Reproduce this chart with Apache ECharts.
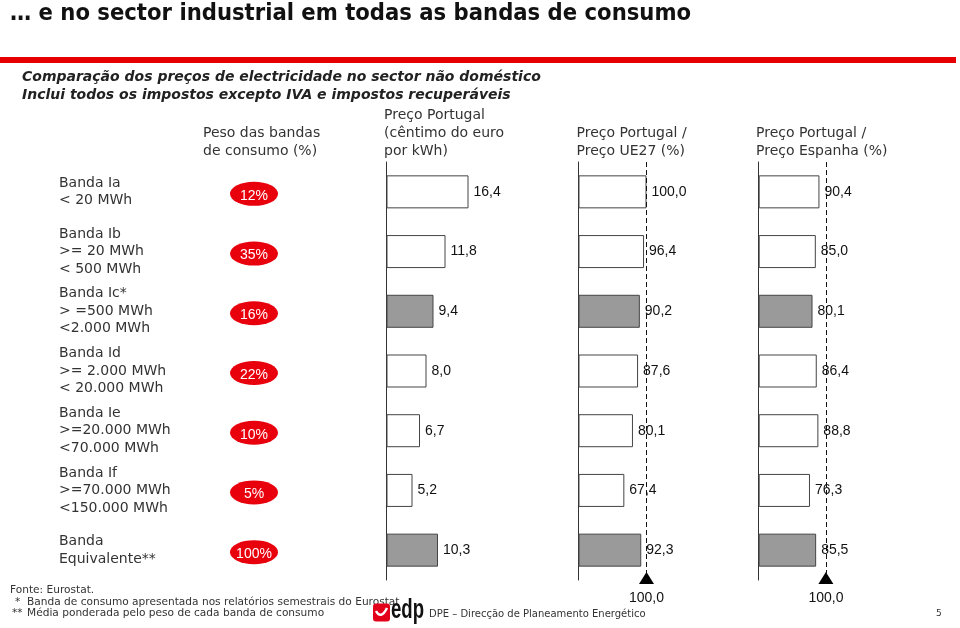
<!DOCTYPE html>
<html><head><meta charset="utf-8">
<script src="https://cdn.jsdelivr.net/npm/echarts@6/dist/echarts.min.js"></script>
<style>html,body{margin:0;padding:0;background:#fff}#c{width:960px;height:628px}</style>
</head><body><div id="c"></div>
<script>
// ---- data ----
const categories = [
  'Banda Ia\n< 20 MWh',
  'Banda Ib\n>= 20 MWh\n< 500 MWh',
  'Banda Ic*\n> =500 MWh\n<2.000 MWh',
  'Banda Id\n>= 2.000 MWh\n< 20.000 MWh',
  'Banda Ie\n>=20.000 MWh\n<70.000 MWh',
  'Banda If\n>=70.000 MWh\n<150.000 MWh',
  'Banda\nEquivalente**'
];
const weights = [12, 35, 16, 22, 10, 5, 100];
const pricePT = [16.4, 11.8, 9.4, 8.0, 6.7, 5.2, 10.3];
const ratioEU = [100.0, 96.4, 90.2, 87.6, 80.1, 67.4, 92.3];
const ratioES = [90.4, 85.0, 80.1, 86.4, 88.8, 76.3, 85.5];
const highlighted = [false, false, true, false, false, false, true];
const referenceValue = 100;
const headers = [
  'Peso das bandas\nde consumo (%)',
  'Preço Portugal\n(cêntimo do euro\npor kWh)',
  'Preço Portugal /\nPreço UE27 (%)',
  'Preço Portugal /\nPreço Espanha (%)'
];
const titleText = '… e no sector industrial em todas as bandas de consumo';
const subtitleText = 'Comparação dos preços de electricidade no sector não doméstico\nInclui todos os impostos excepto IVA e impostos recuperáveis';
const footnotes = ['Fonte: Eurostat.', '*', 'Banda de consumo apresentada nos relatórios semestrais do Eurostat', '**', 'Média ponderada pelo peso de cada banda de consumo'];
const footerDept = 'DPE – Direcção de Planeamento Energético';
const pageNumber = '5';

// ---- layout ----
const FONT = 'DejaVu Sans';
const NUMFONT = 'Liberation Sans';
const TOP = 162, H = 418;
const fmt = v => v.toFixed(1).replace('.', ',');
const barData = arr => arr.map((v, i) => ({ value: v, itemStyle: { color: highlighted[i] ? '#9a9a9a' : '#ffffff' } }));

const panels = [
  { left: 386.5, width: 100, max: 20, data: pricePT, ref: false },
  { left: 578.5, width: 68, max: 100, data: ratioEU, ref: true },
  { left: 758.7, width: 67.2, max: 100, data: ratioES, ref: true }
];

const grid = [{ left: 230, top: TOP, width: 48, height: H }];
const xAxis = [{ gridIndex: 0, type: 'value', min: 0, max: 1, show: false }];
const yAxis = [{
  gridIndex: 0, type: 'category', data: categories, inverse: true,
  axisLine: { show: false }, axisTick: { show: false }, splitLine: { show: false },
  axisLabel: { align: 'left', margin: 230 - 59, fontFamily: FONT, fontSize: 14, lineHeight: 17.5, color: '#333' }
}];
const series = [{
  type: 'scatter', xAxisIndex: 0, yAxisIndex: 0,
  data: weights.map((w, i) => [0.5, i]),
  symbol: 'circle', symbolSize: [48, 24], symbolOffset: [0, 2],
  itemStyle: { color: '#e8000d', opacity: 1 },
  label: { show: true, position: 'inside', offset: [0, 2], formatter: p => weights[p.dataIndex] + '%', color: '#fff', fontFamily: NUMFONT, fontSize: 14 }
}];

panels.forEach((p, k) => {
  const gi = k + 1;
  grid.push({ left: p.left, top: TOP, width: p.width, height: H });
  xAxis.push({ gridIndex: gi, type: 'value', min: 0, max: p.max, show: false });
  yAxis.push({
    gridIndex: gi, type: 'category', data: categories, inverse: true,
    axisLine: { show: true, lineStyle: { color: '#333', width: 1 } },
    axisTick: { show: false }, axisLabel: { show: false }, splitLine: { show: false }
  });
  const s = {
    type: 'bar', xAxisIndex: gi, yAxisIndex: gi, data: barData(p.data), barWidth: 33,
    itemStyle: { borderColor: '#444', borderWidth: 1 },
    label: { show: true, position: 'right', distance: 5, formatter: q => fmt(q.value), color: '#111', fontFamily: NUMFONT, fontSize: 14 }
  };
  if (p.ref) {
    s.markLine = {
      silent: true, symbol: 'none', label: { show: false },
      lineStyle: { type: [5, 3], color: '#111', width: 1 },
      data: [{ xAxis: referenceValue }]
    };
  }
  series.push(s);
});

const chart = echarts.init(document.getElementById('c'), null, { renderer: 'canvas' });
chart.setOption({ animation: false, backgroundColor: '#fff', grid, xAxis, yAxis, series });

// ---- text & decorations ----
const graphic = [];
graphic.push({ type: 'text', x: 10, y: 14, scaleY: 1.12, originX: 0, originY: 0, style: { text: titleText, verticalAlign: 'middle', fontFamily: FONT, fontWeight: 'bold', fontSize: 21.2, fill: '#111' } });
graphic.push({ type: 'rect', shape: { x: 0, y: 57, width: 956, height: 6 }, style: { fill: '#e60000' } });
graphic.push({ type: 'text', x: 22, y: 68, style: { text: subtitleText, fontFamily: FONT, fontStyle: 'italic', fontWeight: 'bold', fontSize: 14, lineHeight: 18, fill: '#222' } });
const hx = [203, 384, 576.5, 756], hy = [124, 106.5, 124, 124];
headers.forEach((h, i) => graphic.push({ type: 'text', x: hx[i], y: hy[i], style: { text: h, fontFamily: FONT, fontSize: 14, lineHeight: 18, fill: '#333' } }));

[2, 3].forEach(xi => {
  const px = chart.convertToPixel({ xAxisIndex: xi }, referenceValue);
  graphic.push({ type: 'polygon', shape: { points: [[px, 572], [px - 7.5, 584], [px + 7.5, 584]] }, style: { fill: '#000' } });
  graphic.push({ type: 'text', x: px, y: 598, style: { text: fmt(referenceValue), align: 'center', verticalAlign: 'middle', fontFamily: NUMFONT, fontSize: 14, fill: '#111' } });
});

const FN = 10.6;
graphic.push({ type: 'text', x: 10, y: 590, style: { text: footnotes[0], verticalAlign: 'middle', fontFamily: FONT, fontSize: FN, fill: '#333' } });
graphic.push({ type: 'text', x: 15, y: 602, style: { text: footnotes[1], verticalAlign: 'middle', fontFamily: FONT, fontSize: FN, fill: '#333' } });
graphic.push({ type: 'text', x: 27, y: 602, style: { text: footnotes[2], verticalAlign: 'middle', fontFamily: FONT, fontSize: FN, fill: '#333' } });
graphic.push({ type: 'text', x: 12, y: 613, style: { text: footnotes[3], verticalAlign: 'middle', fontFamily: FONT, fontSize: FN, fill: '#333' } });
graphic.push({ type: 'text', x: 27, y: 613, style: { text: footnotes[4], verticalAlign: 'middle', fontFamily: FONT, fontSize: FN, fill: '#333' } });
// logo
graphic.push({ type: 'rect', shape: { x: 373, y: 603.5, width: 17, height: 18, r: 3 }, style: { fill: '#e2001a' } });
graphic.push({ type: 'bezierCurve', shape: { x1: 376, y1: 611, cpx1: 381, cpy1: 620, x2: 387, y2: 608 }, style: { fill: 'none', stroke: '#fff', lineWidth: 2.5 } });
graphic.push({ type: 'text', x: 391, y: 624, scaleX: 0.93, scaleY: 1.4, originX: 0, originY: 0, style: { text: 'edp', verticalAlign: 'bottom', fontFamily: NUMFONT, fontWeight: 'bold', fontSize: 20, fill: '#111' } });
graphic.push({ type: 'text', x: 429, y: 614, style: { text: footerDept, verticalAlign: 'middle', fontFamily: FONT, fontSize: 10, fill: '#333' } });
graphic.push({ type: 'text', x: 936, y: 614, style: { text: pageNumber, verticalAlign: 'middle', fontFamily: FONT, fontSize: 9, fill: '#333' } });

chart.setOption({ graphic });
</script></body></html>
